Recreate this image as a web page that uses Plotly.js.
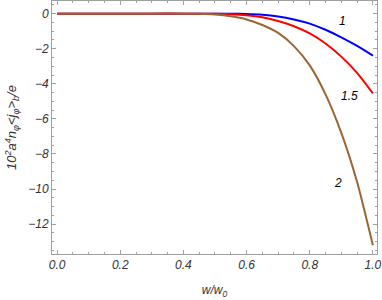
<!DOCTYPE html>
<html>
<head>
<meta charset="utf-8">
<script src="https://cdn.plot.ly/plotly-3.0.1.min.js"></script>
<style>html,body{margin:0;padding:0;background:#fff;}#chart{width:382px;height:300px;}</style>
</head>
<body>
<div id="chart"></div>
<script>
const xBlue = [0, 0.1, 0.2, 0.3, 0.4, 0.5, 0.55, 0.6, 0.65, 0.7, 0.75, 0.8, 0.85, 0.9, 0.95, 1.0];
const yBlue = [0, 0, 0, 0, 0, 0, -0.005, -0.02, -0.06, -0.16, -0.33, -0.57, -0.92, -1.35, -1.84, -2.39];
const xRed = [0, 0.1, 0.2, 0.3, 0.4, 0.5, 0.55, 0.6, 0.65, 0.7, 0.75, 0.8, 0.85, 0.9, 0.95, 1.0];
const yRed = [0, 0, 0, 0, 0, -0.01, -0.03, -0.09, -0.21, -0.42, -0.72, -1.13, -1.70, -2.45, -3.38, -4.55];
const xBrown = [0, 0.1, 0.2, 0.3, 0.4, 0.45, 0.5, 0.55, 0.6, 0.65, 0.7, 0.75, 0.8, 0.85, 0.9, 0.95, 1.0];
const yBrown = [0, 0, 0, 0, 0, -0.01, -0.05, -0.15, -0.33, -0.65, -1.1, -1.85, -2.95, -4.6, -6.8, -9.6, -13.2];
const curveLabels = ["1", "1.5", "2"];
const labelX = [0.904, 0.926, 0.889];
const labelY = [-0.4, -4.68, -9.66];

const font = {family: "Liberation Sans, Arial, sans-serif", style: "italic"};
const traces = [
  {x: xBlue, y: yBlue, color: "#0000ff"},
  {x: xRed, y: yRed, color: "#ff0000"},
  {x: xBrown, y: yBrown, color: "#996633"}
].map(t => ({x: t.x, y: t.y, type: "scatter", mode: "lines",
  line: {color: t.color, width: 2, shape: "spline", smoothing: 0.6}, hoverinfo: "skip"}));

const annotations = curveLabels.map((s, i) => ({
  x: labelX[i], y: labelY[i], xref: "x", yref: "y", text: s, showarrow: false,
  font: {family: font.family, style: "italic", size: 12, color: "#000"}
}));

const axisCommon = {
  showline: true, linecolor: "#a0a0a0", linewidth: 1, mirror: "allticks",
  ticks: "inside", ticklen: 4, tickcolor: "#a0a0a0", tickwidth: 1,
  showgrid: false, zeroline: false,
  tickfont: {family: font.family, style: "italic", size: 12, color: "#333"}
};

const layout = {
  width: 382, height: 300,
  margin: {l: 52, r: 5, t: 1, b: 46},
  paper_bgcolor: "#fff", plot_bgcolor: "#fff",
  showlegend: false,
  xaxis: Object.assign({}, axisCommon, {
    range: [-0.016, 1.013], tick0: 0, dtick: 0.2, tickformat: ".1f",
    minor: {dtick: 0.05, ticks: "inside", ticklen: 2, tickcolor: "#a0a0a0"},
    title: {text: "w/w<sub>0</sub>", standoff: 14,
      font: {family: font.family, style: "italic", size: 12, color: "#333"}}
  }),
  yaxis: Object.assign({}, axisCommon, {
    range: [-13.7, 0.72], tick0: 0, dtick: 2,
    minor: {dtick: 0.5, ticks: "inside", ticklen: 2, tickcolor: "#a0a0a0"},
    title: {text: "10<sup>2</sup>a<sup>4</sup>n<sub>φ</sub>&lt;j<sub>φ</sub>&gt;<sub>b</sub>/e", standoff: 8,
      font: {family: font.family, style: "italic", size: 13, color: "#333"}}
  }),
  annotations: annotations
};

Plotly.newPlot("chart", traces, layout, {displayModeBar: false, staticPlot: true});
</script>
</body>
</html>
